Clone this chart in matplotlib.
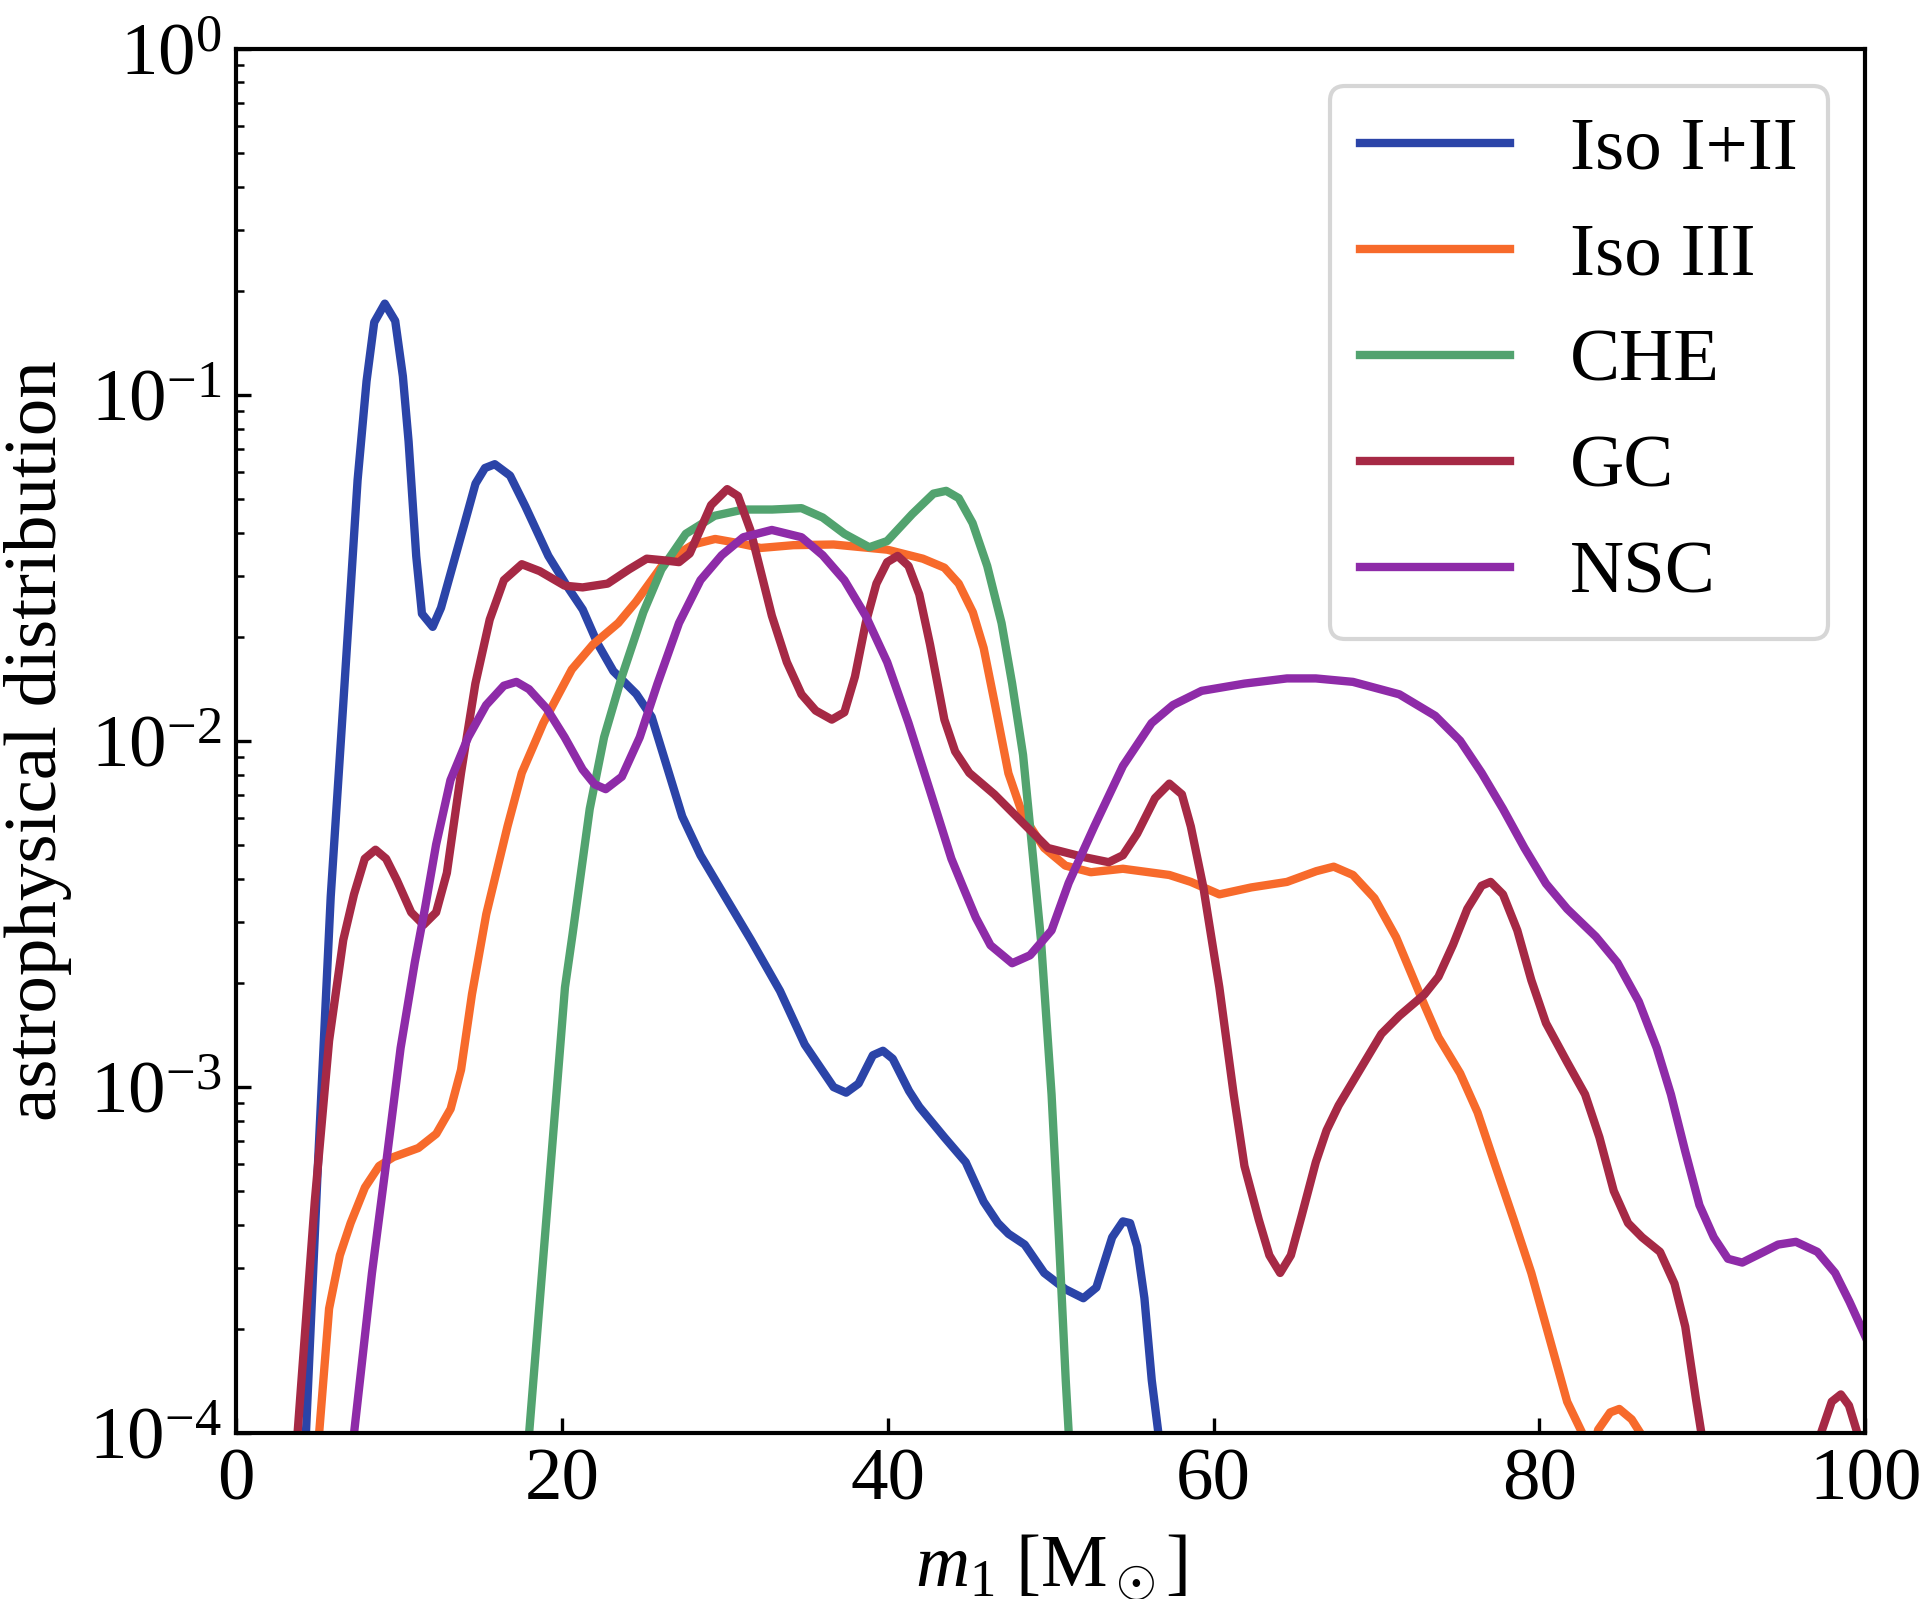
import matplotlib
matplotlib.use("Agg")
import matplotlib.pyplot as plt
import numpy as np
from matplotlib.ticker import LogLocator, NullLocator

plt.rcParams['font.family'] = ['Liberation Serif', 'DejaVu Serif']
plt.rcParams['mathtext.fontset'] = 'custom'
plt.rcParams['mathtext.rm'] = 'Liberation Serif'
plt.rcParams['mathtext.it'] = 'Liberation Serif:italic'
plt.rcParams['mathtext.bf'] = 'Liberation Serif:bold'

# primary mass [Msun] and log10 of the astrophysical distribution
iso12_m = [4.0, 4.28, 5.0, 5.8, 6.58, 7.45, 8.0, 8.47, 9.12, 9.76, 10.23, 10.58, 11.05, 11.4,
           12.06, 12.57, 13.98, 14.69, 15.27, 15.87, 16.81, 17.75, 19.16, 20.33, 21.27, 22.2,
           23.15, 24.56, 25.5, 26.44, 27.38, 28.5, 29.8, 31.6, 33.38, 34.9, 36.67, 37.44, 38.2,
           39.08, 39.7, 40.3, 41.3, 41.93, 43.47, 44.78, 45.88, 46.76, 47.41, 48.4, 49.6, 50.9,
           52.0, 52.8, 53.77, 54.43, 54.87, 55.3, 55.75, 56.2, 56.6, 56.8]
iso12_log = [-4.3, -4.0, -3.24, -2.45, -1.886, -1.246, -0.96, -0.79, -0.736, -0.786, -0.946,
             -1.134, -1.466, -1.632, -1.67, -1.615, -1.377, -1.256, -1.211, -1.2, -1.233, -1.322,
             -1.465, -1.554, -1.62, -1.72, -1.798, -1.864, -1.93, -2.074, -2.218, -2.33, -2.433,
             -2.575, -2.722, -2.877, -3.0, -3.016, -2.99, -2.908, -2.895, -2.918, -3.011, -3.057,
             -3.145, -3.217, -3.331, -3.393, -3.424, -3.455, -3.537, -3.584, -3.61, -3.579,
             -3.434, -3.388, -3.393, -3.46, -3.61, -3.847, -3.997, -4.3]

iso3_m = [4.9, 5.09, 5.7, 6.36, 7.02, 7.9, 8.77, 9.65, 11.18, 12.28, 13.16, 13.8, 14.47, 15.35,
          16.65, 17.53, 18.85, 20.6, 21.9, 23.45, 24.55, 26.3, 28.05, 29.4, 30.7, 32.2, 34.2,
          36.67, 39.96, 42.15, 43.47, 44.35, 45.22, 45.88, 46.54, 47.4, 48.3, 49.6, 50.9, 52.46,
          54.43, 57.28, 58.6, 60.35, 62.3, 64.5, 66.3, 67.37, 68.55, 69.87, 71.2, 72.94, 73.8,
          75.13, 76.2, 77.3, 78.42, 79.5, 80.6, 81.7, 82.6, 83.1, 83.6, 84.34, 84.9, 85.66,
          86.2, 86.6]
iso3_log = [-4.3, -4.0, -3.64, -3.486, -3.393, -3.29, -3.228, -3.202, -3.176, -3.135, -3.063,
            -2.95, -2.732, -2.5, -2.247, -2.092, -1.948, -1.793, -1.721, -1.659, -1.597, -1.483,
            -1.432, -1.416, -1.427, -1.442, -1.434, -1.432, -1.447, -1.473, -1.499, -1.545,
            -1.628, -1.731, -1.886, -2.093, -2.216, -2.309, -2.36, -2.379, -2.369, -2.387,
            -2.407, -2.443, -2.423, -2.407, -2.376, -2.363, -2.387, -2.454, -2.567, -2.763,
            -2.856, -2.96, -3.073, -3.228, -3.383, -3.537, -3.723, -3.909, -3.997, -4.1, -3.99,
            -3.94, -3.93, -3.96, -4.0, -4.3]

che_m = [17.8, 17.98, 19.3, 20.18, 20.65, 21.7, 22.58, 23.67, 24.99, 26.1, 27.6, 29.37, 31.13,
         32.9, 34.7, 36.0, 37.33, 38.86, 39.96, 41.5, 42.8, 43.58, 44.35, 45.2, 46.1, 46.98,
         47.63, 48.3, 48.73, 49.4, 50.05, 50.5, 50.92, 51.1, 51.3]
che_log = [-4.3, -4.0, -3.228, -2.712, -2.557, -2.196, -1.989, -1.814, -1.628, -1.504, -1.401,
           -1.349, -1.331, -1.331, -1.327, -1.354, -1.401, -1.44, -1.422, -1.344, -1.285, -1.277,
           -1.298, -1.37, -1.494, -1.659, -1.834, -2.04, -2.247, -2.575, -3.021, -3.434, -3.847,
           -3.997, -4.3]

gc_m = [3.6, 3.77, 4.82, 5.7, 6.57, 7.23, 7.89, 8.55, 9.2, 9.86, 10.74, 11.5, 12.27, 12.93,
        13.8, 14.68, 15.56, 16.43, 17.53, 18.63, 20.16, 21.26, 22.8, 24.11, 25.2, 26.3, 27.18,
        27.84, 29.15, 30.14, 30.8, 31.56, 32.88, 33.8, 34.7, 35.57, 36.56, 37.33, 37.98, 38.64,
        39.3, 39.96, 40.6, 41.27, 41.93, 42.59, 43.47, 44.13, 45.0, 46.54, 48.3, 49.83, 52.0,
        53.56, 54.43, 55.3, 56.4, 57.28, 58.05, 58.6, 59.37, 60.35, 61.23, 61.89, 62.77, 63.42,
        64.08, 64.74, 65.4, 66.27, 66.93, 67.67, 68.99, 70.3, 71.4, 72.94, 73.8, 74.7, 75.57,
        76.45, 77.0, 77.76, 78.64, 79.5, 80.4, 81.7, 82.8, 83.68, 84.56, 85.44, 86.3, 87.4,
        88.29, 88.95, 89.6, 89.93, 90.2, 93.5, 97.0, 97.3, 97.94, 98.5, 99.0, 99.5, 100.0]
gc_log = [-4.3, -3.997, -3.331, -2.866, -2.575, -2.443, -2.34, -2.314, -2.34, -2.402, -2.495,
          -2.531, -2.495, -2.381, -2.092, -1.834, -1.649, -1.535, -1.489, -1.509, -1.551, -1.556,
          -1.545, -1.504, -1.473, -1.478, -1.483, -1.458, -1.318, -1.272, -1.292, -1.39, -1.638,
          -1.772, -1.865, -1.912, -1.938, -1.917, -1.814, -1.659, -1.545, -1.483, -1.465, -1.494,
          -1.576, -1.721, -1.938, -2.03, -2.092, -2.154, -2.237, -2.309, -2.335, -2.35, -2.33,
          -2.268, -2.165, -2.123, -2.154, -2.247, -2.423, -2.712, -3.021, -3.228, -3.383,
          -3.486, -3.537, -3.486, -3.372, -3.217, -3.125, -3.053, -2.949, -2.846, -2.794,
          -2.732, -2.681, -2.588, -2.485, -2.418, -2.407, -2.443, -2.547, -2.691, -2.815,
          -2.928, -3.021, -3.145, -3.3, -3.393, -3.434, -3.476, -3.568, -3.692, -3.899, -3.997,
          -4.3, -4.8, -4.2, -3.997, -3.909, -3.888, -3.92, -3.997, -4.3]

nsc_m = [7.0, 7.24, 8.33, 9.21, 10.09, 10.96, 11.6, 12.27, 13.15, 14.24, 15.34, 16.43, 17.2,
         17.97, 19.07, 20.16, 21.26, 22.0, 22.68, 23.67, 24.77, 25.86, 27.18, 28.5, 29.8, 31.13,
         32.88, 34.7, 36.0, 37.33, 38.64, 39.96, 41.27, 42.59, 43.9, 44.6, 45.4, 46.3, 47.63,
         48.73, 50.05, 51.1, 52.67, 54.43, 56.19, 57.5, 59.26, 61.89, 64.5, 66.27, 68.55, 71.4,
         73.6, 75.13, 76.45, 77.76, 79.08, 80.4, 81.7, 83.46, 84.78, 86.1, 87.2, 88.07, 88.95,
         89.82, 90.7, 91.57, 92.45, 93.77, 94.65, 95.74, 97.06, 98.15, 99.03, 100.0]
nsc_log = [-4.3, -3.997, -3.538, -3.217, -2.887, -2.64, -2.48, -2.299, -2.113, -1.989, -1.896,
           -1.84, -1.829, -1.85, -1.907, -1.989, -2.082, -2.125, -2.139, -2.103, -1.989, -1.834,
           -1.659, -1.535, -1.463, -1.411, -1.39, -1.411, -1.463, -1.535, -1.638, -1.772, -1.948,
           -2.144, -2.34, -2.42, -2.51, -2.59, -2.642, -2.619, -2.547, -2.41, -2.247, -2.072,
           -1.948, -1.896, -1.855, -1.834, -1.819, -1.819, -1.829, -1.865, -1.927, -1.999,
           -2.092, -2.196, -2.309, -2.412, -2.485, -2.565, -2.64, -2.753, -2.887, -3.021, -3.186,
           -3.341, -3.434, -3.496, -3.507, -3.476, -3.455, -3.447, -3.476, -3.537, -3.62, -3.72]

labels = ['Iso I+II', 'Iso III', 'CHE', 'GC', 'NSC']
colors = ['#2b44a8', '#f76a2b', '#52a36f', '#a62945', '#8e2ba8']

fig = plt.figure(figsize=(1919 / 300, 1599 / 300), dpi=300)
ax = fig.add_axes([0.1231, 0.1037, 0.8489, 0.8657])

series = [(iso12_m, iso12_log), (iso3_m, iso3_log), (che_m, che_log),
          (gc_m, gc_log), (nsc_m, nsc_log)]
for (m, lg), lab, c in zip(series, labels, colors):
    ax.plot(m, 10 ** np.array(lg), color=c, lw=2.0, label=lab)

ax.set_yscale('log')
ax.set_xlim(0, 100)
ax.set_ylim(1e-4, 1)
ax.set_xticks([0, 20, 40, 60, 80, 100])
ax.xaxis.set_minor_locator(NullLocator())
ax.yaxis.set_major_locator(LogLocator(base=10, numticks=10))
ax.yaxis.set_minor_locator(LogLocator(base=10, subs=np.arange(2, 10), numticks=20))
ax.tick_params(which='both', direction='in', labelsize=18)
for s in ax.spines.values():
    s.set_linewidth(1.0)

ax.set_xlabel(r'$m_1$ [M$_\odot$]', fontsize=18)
ax.set_ylabel('astrophysical distribution', fontsize=18)

leg = ax.legend(loc='upper right', fontsize=18)
for line in leg.get_lines():
    line.set_linewidth(2.0)

fig.savefig('out.png', dpi=300)
